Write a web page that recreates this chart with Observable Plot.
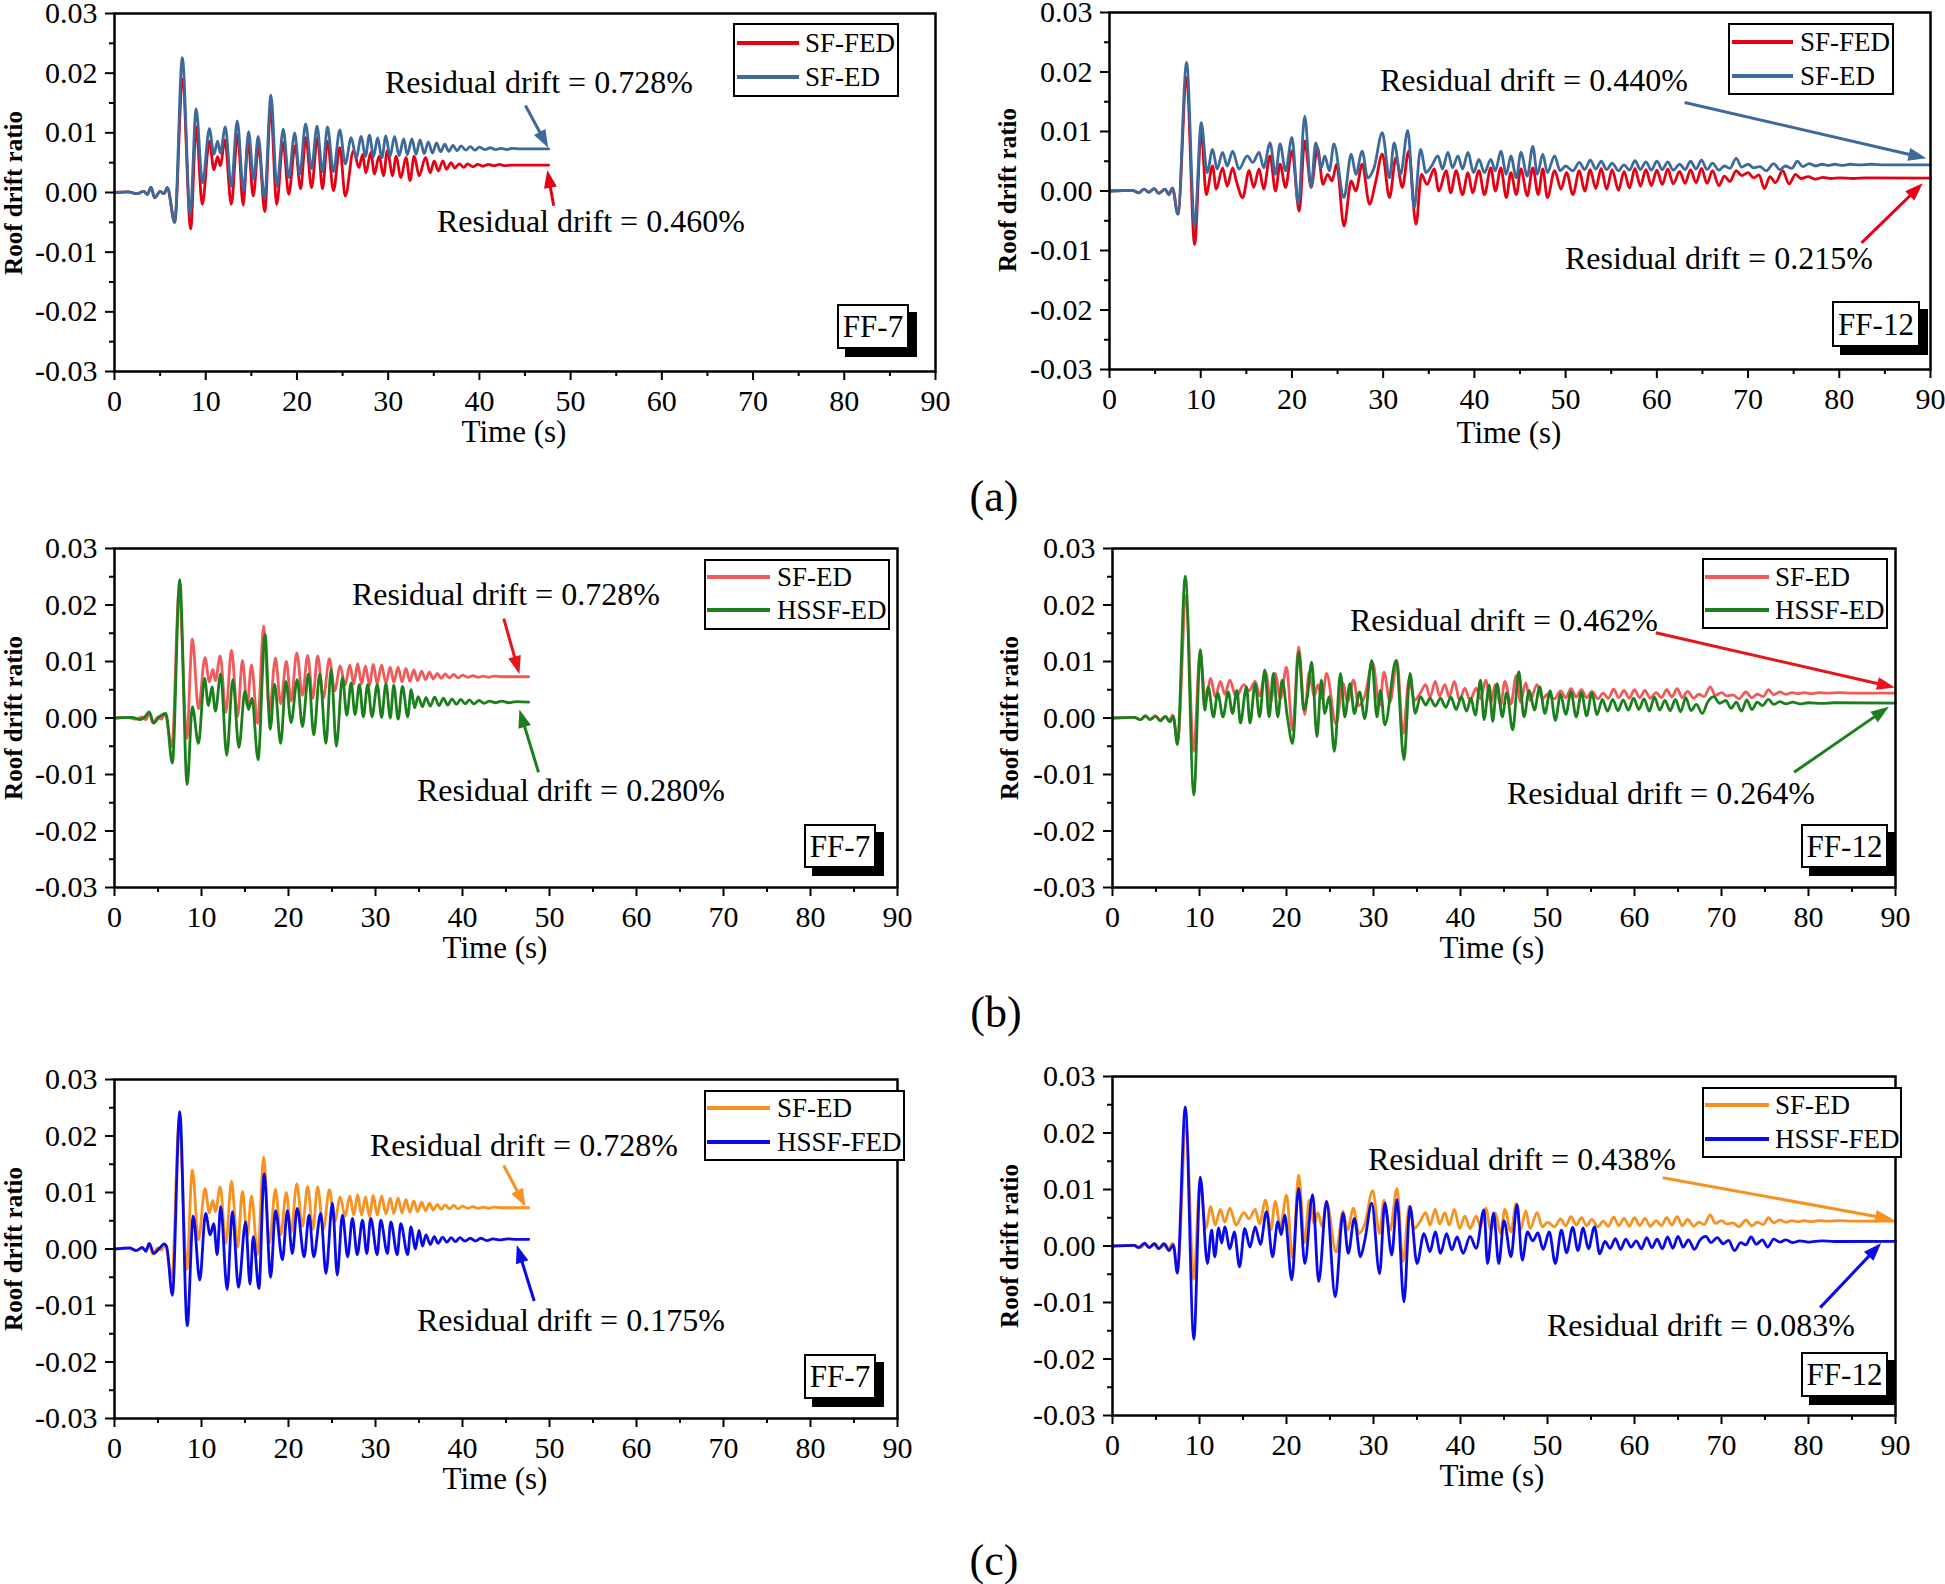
<!DOCTYPE html>
<html><head><meta charset="utf-8">
<script src="https://cdn.jsdelivr.net/npm/d3@7"></script>
<script src="https://cdn.jsdelivr.net/npm/@observablehq/plot@0.6"></script>
<style>
body{margin:0;background:#fff;}
#page{position:relative;width:1945px;height:1584px;overflow:hidden;font-family:"Liberation Serif","Times New Roman",serif;color:#000;background:#fff;}
.t{position:absolute;white-space:nowrap;line-height:1;transform:translate(0,-50%);}
.c{position:absolute;white-space:nowrap;line-height:1;transform:translate(-50%,-50%);}
.legend{position:absolute;border:2.5px solid #000;background:#fff;box-sizing:border-box;}
.ff{position:absolute;background:#fff;border:2.5px solid #000;box-shadow:8px 8px 0 #000;font-size:31px;display:flex;align-items:center;justify-content:center;box-sizing:border-box;line-height:1;}
svg{position:absolute;}
</style></head><body><div id="page"></div>
<script>
// ---- ticks ----
const xTicks=[0,10,20,30,40,50,60,70,80,90];
const xMinor=[5,15,25,35,45,55,65,75,85];
const yTicks=[-0.03,-0.02,-0.01,0,0.01,0.02,0.03];
const yMinor=[-0.025,-0.015,-0.005,0.005,0.015,0.025];

// ---- FF-7 series: [time (s), roof drift ratio] ----
const sfED7=[[0,0],[1.5,0.0001],[2.5,-0.0002],[3.2,0.0002],[3.6,-0.0003],[4.0,0.0009],[4.4,-0.0009],[5.0,0.0002],[5.4,-0.0002],[5.8,0.0008],[6.6,-0.005],[7.43,0.0226],[8.3,-0.0036],[8.95,0.014],[9.65,0.0016],[10.4,0.0107],[10.9,0.0064],[11.3,0.0086],[11.6,0.0066],[12.15,0.011],[12.8,0.001],[13.45,0.012],[14.15,0.0003],[14.7,0.0102],[15.25,0.0022],[15.75,0.0094],[16.45,-0.001],[17.15,0.0163],[17.8,0.001],[18.5,0.0106],[19.1,0.0025],[19.75,0.01],[20.3,0.003],[20.95,0.0115],[21.6,0.004],[22.2,0.0111],[22.8,0.0035],[23.35,0.011],[24.0,0.0035],[24.7,0.0105],[25.3,0.0048],[25.95,0.0092],[26.5,0.0058],[27.05,0.0094],[27.5,0.006],[27.95,0.0096],[28.4,0.006],[28.85,0.0092],[29.3,0.0058],[29.75,0.0095],[30.2,0.006],[30.7,0.0094],[31.2,0.0062],[31.7,0.009],[32.1,0.0063],[32.6,0.009],[33.05,0.0064],[33.5,0.0088],[33.95,0.0065],[34.4,0.0085],[34.85,0.0066],[35.3,0.0083],[35.75,0.0068],[36.2,0.0081],[36.65,0.0069],[37.1,0.0079],[37.55,0.007],[38.0,0.0078],[38.5,0.0071],[39.0,0.0077],[39.5,0.0071],[40.0,0.0076],[40.6,0.0072],[41.2,0.0075],[41.8,0.0072],[42.4,0.0074],[43.0,0.0072],[43.6,0.0074],[44.5,0.0073],[47.6,0.0073]];
const sfFED7=[[0,0],[1.5,0.0001],[2.5,-0.0002],[3.2,0.0002],[3.6,-0.0003],[4.0,0.0009],[4.4,-0.0009],[5.0,0.0002],[5.4,-0.0002],[5.8,0.0008],[6.6,-0.005],[7.45,0.019],[8.35,-0.0061],[8.95,0.011],[9.62,-0.002],[10.4,0.0086],[10.9,0.0038],[11.3,0.006],[11.6,0.0045],[12.1,0.0088],[12.8,-0.002],[13.5,0.0098],[14.1,-0.0021],[14.65,0.0086],[15.2,-0.0006],[15.8,0.0078],[16.47,-0.0032],[17.12,0.0142],[17.78,-0.002],[18.48,0.0084],[19.1,-0.0003],[19.8,0.0078],[20.4,0.0006],[20.97,0.0092],[21.6,0.0008],[22.25,0.0092],[22.8,0.0006],[23.35,0.0086],[24.0,0.0003],[24.7,0.0075],[25.3,-0.0006],[26.2,0.007],[26.8,0.0042],[27.2,0.0064],[27.55,0.0033],[28.1,0.0067],[28.5,0.0031],[29.0,0.0061],[29.5,0.0028],[29.9,0.007],[30.5,0.0028],[30.85,0.0061],[31.4,0.0025],[31.95,0.0059],[32.4,0.002],[32.85,0.0061],[33.4,0.0028],[34.1,0.0059],[34.6,0.0033],[35.05,0.0053],[35.5,0.0036],[36.0,0.0053],[36.4,0.0039],[36.9,0.005],[37.3,0.0041],[37.8,0.0048],[38.3,0.0042],[38.7,0.0048],[39.3,0.0043],[39.8,0.0047],[40.4,0.0044],[41.0,0.0047],[41.6,0.0045],[42.2,0.0047],[42.8,0.0045],[43.5,0.0046],[44.5,0.0046],[47.6,0.0046]];
const hssfED7=[[0,0],[2,0.0001],[3,-0.0003],[3.5,0.0002],[4.0,0.0011],[4.5,-0.0009],[5.2,0.0003],[5.9,0.0008],[6.65,-0.008],[7.5,0.0245],[8.35,-0.0118],[8.95,0.002],[9.65,-0.0045],[10.35,0.007],[10.8,0.0022],[11.2,0.0055],[11.6,0.0012],[12.2,0.0078],[12.9,-0.0066],[13.6,0.0068],[14.3,-0.0052],[15.0,0.0048],[15.4,0.0015],[15.8,0.0035],[16.5,-0.0074],[17.3,0.0148],[17.9,-0.002],[18.4,0.006],[19.1,-0.0045],[19.7,0.0065],[20.3,-0.0008],[21.0,0.0068],[21.6,-0.0015],[22.3,0.0078],[22.9,-0.003],[23.6,0.0078],[24.3,-0.0045],[24.9,0.0086],[25.5,-0.005],[26.2,0.0072],[26.7,0.0005],[27.2,0.0062],[27.65,0.0006],[28.15,0.0059],[28.6,0.0002],[29.1,0.0059],[29.6,0.0002],[30.2,0.0059],[30.7,0.0001],[31.2,0.0061],[31.7,0.0],[32.1,0.0058],[32.6,-0.0002],[33.1,0.0056],[33.7,0.0002],[34.1,0.005],[34.5,0.0018],[34.9,0.0038],[35.4,0.002],[35.8,0.0036],[36.3,0.0021],[36.8,0.0037],[37.3,0.0022],[37.8,0.0035],[38.3,0.0023],[38.8,0.0034],[39.3,0.0024],[39.8,0.0033],[40.3,0.0025],[40.8,0.0032],[41.3,0.0025],[41.9,0.0031],[42.5,0.0026],[43.1,0.003],[43.8,0.0027],[44.5,0.003],[45.3,0.0027],[46.2,0.0029],[47.6,0.0028]];
const hssfFED7=[[0,0],[1.8,0.0002],[2.5,-0.0003],[3.2,0.0003],[3.6,-0.0004],[4.0,0.001],[4.5,-0.0008],[5.2,0.0002],[5.7,0.0009],[6.0,0.0004],[6.65,-0.0082],[7.5,0.0243],[8.36,-0.0136],[9.05,0.0058],[9.8,-0.0055],[10.47,0.0063],[11.0,0.0025],[11.4,0.0045],[11.8,-0.001],[12.2,0.0075],[12.95,-0.0072],[13.55,0.0066],[14.25,-0.0068],[15.07,0.0048],[15.57,-0.0062],[15.95,0.0022],[16.6,-0.007],[17.2,0.0133],[17.95,-0.005],[18.5,0.0068],[19.3,-0.0019],[19.87,0.0068],[20.44,-0.0008],[21.0,0.0072],[21.8,-0.0014],[22.36,0.006],[22.9,-0.0014],[23.7,0.0063],[24.3,-0.0043],[25.05,0.0081],[25.6,-0.0046],[26.2,0.006],[26.8,-0.0014],[27.35,0.0054],[27.9,-0.001],[28.5,0.0051],[29.0,-0.0008],[29.45,0.0054],[30.2,-0.001],[30.6,0.0051],[31.37,-0.0008],[31.76,0.0048],[32.5,-0.001],[32.9,0.0045],[33.7,-0.001],[34.06,0.0039],[34.6,0.0],[35.0,0.0033],[35.4,0.0005],[35.8,0.0025],[36.3,0.0008],[36.75,0.0022],[37.2,0.001],[37.7,0.0021],[38.2,0.0012],[38.7,0.002],[39.2,0.0013],[39.7,0.002],[40.3,0.0014],[40.9,0.0019],[41.5,0.0014],[42.1,0.0019],[42.8,0.0015],[43.5,0.0018],[44.3,0.0016],[45.2,0.0018],[46.2,0.0017],[47.6,0.0017]];

// ---- FF-12 series ----
const sfED12=[[0,0],[2.5,0.0001],[3.2,-0.0003],[3.8,0.0003],[4.3,-0.0002],[4.9,0.0004],[5.4,-0.0004],[6.1,0.0003],[6.5,-0.0006],[6.9,0.0005],[7.5,-0.0039],[8.45,0.0216],[9.33,-0.0059],[10.06,0.0115],[10.7,0.0031],[11.3,0.007],[11.8,0.0037],[12.4,0.0065],[12.9,0.0042],[13.5,0.0067],[14.2,0.0037],[15.1,0.0059],[15.7,0.0048],[16.4,0.0065],[16.9,0.0039],[17.6,0.0081],[18.2,0.0028],[18.7,0.0079],[19.3,0.0034],[20.0,0.009],[20.7,-0.0022],[21.4,0.0126],[22.1,0.0006],[22.6,0.0081],[23.2,0.0039],[23.6,0.0059],[24.1,0.0034],[24.6,0.0079],[25.7,-0.0011],[26.5,0.0062],[27.0,0.0028],[27.7,0.0067],[28.3,0.0022],[29.0,0.0039],[29.9,0.0098],[30.7,0.0022],[31.2,0.0081],[31.9,0.0028],[32.7,0.0102],[33.4,-0.0028],[34.1,0.007],[34.7,0.0031],[35.3,0.0042],[36.0,0.0059],[36.5,0.0037],[37.1,0.0065],[37.6,0.0039],[38.2,0.0059],[38.7,0.0037],[39.3,0.0065],[39.9,0.0031],[40.5,0.0053],[41.1,0.0031],[41.8,0.0053],[42.3,0.0034],[42.9,0.0067],[43.5,0.0028],[44.0,0.0059],[44.6,0.0022],[45.1,0.0065],[45.8,0.0025],[46.4,0.0075],[46.9,0.0028],[47.5,0.0062],[48.0,0.0031],[48.8,0.0059],[49.4,0.0034],[50.0,0.0042],[50.8,0.0034],[51.5,0.0048],[52.1,0.0036],[52.7,0.0052],[53.3,0.0037],[53.9,0.005],[54.5,0.0036],[55.1,0.0047],[55.8,0.0034],[56.4,0.0044],[57.0,0.0035],[57.6,0.0051],[58.2,0.0036],[58.8,0.0049],[59.4,0.0035],[60.0,0.005],[60.6,0.0036],[61.2,0.0049],[61.8,0.0035],[62.5,0.0045],[63.1,0.0036],[63.7,0.005],[64.3,0.0037],[64.9,0.0052],[65.5,0.0036],[66.1,0.0047],[66.8,0.0035],[67.4,0.0042],[68.0,0.0038],[68.7,0.0055],[69.3,0.004],[70.0,0.0045],[70.6,0.0039],[71.3,0.0041],[72.0,0.0034],[72.8,0.0046],[73.5,0.0036],[74.1,0.0042],[74.8,0.0038],[75.4,0.005],[76.0,0.0041],[76.7,0.0046],[77.4,0.0042],[78.1,0.0045],[78.8,0.0043],[79.5,0.0045],[80.3,0.0043],[81.2,0.0045],[82.2,0.0044],[83.5,0.0045],[85,0.0044],[90,0.0044]];
const sfFED12=[[0,0],[2.5,0.0001],[3.2,-0.0003],[3.8,0.0003],[4.3,-0.0002],[4.9,0.0004],[5.4,-0.0004],[6.1,0.0003],[6.5,-0.0006],[6.9,0.0005],[7.5,-0.0039],[8.45,0.019],[9.33,-0.009],[10.06,0.0101],[10.6,-0.0006],[11.3,0.0042],[11.7,0.0003],[12.4,0.0039],[12.9,0.0008],[13.5,0.0039],[13.9,0.0017],[14.6,-0.0011],[15.3,0.0034],[15.8,0.0006],[16.4,0.0037],[16.9,0.0003],[17.6,0.0059],[18.2,0.0],[18.7,0.0045],[19.3,0.0006],[20.0,0.0068],[20.8,-0.0034],[21.4,0.0084],[22.1,0.0006],[22.8,0.0073],[23.4,0.0011],[23.9,0.0028],[24.4,0.0017],[24.9,0.0045],[25.7,-0.0059],[26.5,0.0017],[27.0,0.0],[27.7,0.0045],[28.5,-0.0022],[29.2,0.0017],[29.9,0.0062],[30.7,-0.0011],[31.4,0.0056],[32.1,0.0006],[32.8,0.0067],[33.6,-0.0056],[34.2,0.0028],[34.8,0.0011],[35.6,0.0037],[36.1,0.0],[36.9,0.0034],[37.4,-0.0003],[38.0,0.0034],[38.7,-0.0006],[39.3,0.0031],[39.8,-0.0003],[40.5,0.0034],[41.1,-0.0006],[41.8,0.0039],[42.3,0.0],[42.9,0.0039],[43.5,-0.0011],[44.0,0.0031],[44.6,-0.0006],[45.1,0.0037],[45.8,-0.0008],[46.4,0.0039],[47.0,-0.0006],[47.5,0.0037],[48.0,-0.0011],[48.8,0.0034],[49.5,0.0003],[50.1,0.0031],[50.8,-0.0006],[51.5,0.0034],[52.1,0.0],[52.7,0.0036],[53.3,0.0004],[53.9,0.0038],[54.5,0.0003],[55.1,0.0036],[55.8,0.0001],[56.4,0.0033],[57.0,0.0005],[57.6,0.0038],[58.2,0.0008],[58.8,0.0036],[59.4,0.0009],[60.0,0.0035],[60.6,0.0011],[61.2,0.0037],[61.8,0.0012],[62.5,0.0033],[63.1,0.0013],[63.7,0.0036],[64.3,0.0014],[64.9,0.0038],[65.5,0.0013],[66.1,0.0034],[66.8,0.0009],[67.4,0.0025],[68.0,0.0016],[68.7,0.0034],[69.3,0.0026],[70.0,0.0031],[70.6,0.0022],[71.2,0.0027],[71.8,0.0004],[72.4,0.0024],[73.0,0.0014],[73.8,0.0034],[74.5,0.0012],[75.2,0.0028],[75.8,0.0021],[76.6,0.0024],[77.4,0.002],[78.2,0.0023],[79.1,0.0021],[80.1,0.0022],[81.5,0.0021],[83,0.0022],[90,0.00215]];
const hssfED12=[[0,0],[2.5,0.0001],[3.2,-0.0003],[3.8,0.0004],[4.3,-0.0003],[5.0,0.0003],[5.5,-0.0005],[6.1,0.0003],[6.6,-0.0007],[7.0,0.0003],[7.45,-0.0047],[8.37,0.0251],[9.35,-0.0136],[10.1,0.0121],[10.6,0.0014],[11.0,0.0055],[11.6,0.0002],[12.1,0.0044],[12.7,0.0002],[13.3,0.0046],[13.8,0.0008],[14.3,0.0049],[14.7,-0.0009],[15.4,0.0055],[15.8,-0.0009],[16.4,0.0061],[16.9,0.0002],[17.5,0.0085],[18.0,0.0002],[18.5,0.0079],[19.0,0.0002],[19.5,0.0067],[20.1,0.0002],[20.7,-0.0045],[21.4,0.0117],[22.0,0.0014],[22.4,0.0038],[22.9,0.0099],[23.5,-0.0033],[24.0,0.0067],[24.4,0.0008],[24.9,0.0038],[25.5,-0.0059],[26.2,0.0079],[26.7,0.0002],[27.3,0.0061],[27.8,0.0008],[28.4,0.0046],[29.0,-0.0001],[29.8,0.0102],[30.4,0.0002],[30.8,0.0049],[31.3,-0.0012],[32.6,0.0102],[33.5,-0.0074],[34.2,0.0079],[34.8,0.0008],[35.4,0.0038],[36.0,0.0023],[36.5,0.0035],[37.1,0.0021],[37.7,0.0035],[38.3,0.0019],[38.9,0.0037],[39.5,0.0015],[40.1,0.0038],[40.7,0.0012],[41.2,0.0035],[41.7,0.0005],[42.3,0.0067],[42.7,-0.0003],[43.3,0.0058],[43.7,-0.0006],[44.2,0.0061],[44.8,0.0002],[45.3,0.0045],[46.0,-0.0021],[46.7,0.0082],[47.3,0.0002],[47.9,0.0049],[48.5,0.0014],[49.1,0.0055],[49.7,0.0008],[50.3,0.0048],[50.9,-0.0004],[51.5,0.0042],[52.1,0.0006],[52.7,0.0046],[53.3,0.0002],[53.9,0.0045],[54.5,0.0004],[55.1,0.0044],[55.7,0.0006],[56.3,0.0033],[56.9,0.0012],[57.5,0.0033],[58.1,0.0013],[58.7,0.0032],[59.3,0.0014],[59.9,0.0035],[60.5,0.0015],[61.1,0.0034],[61.7,0.0012],[62.3,0.0037],[62.9,0.0014],[63.5,0.0031],[64.1,0.0013],[64.7,0.0033],[65.3,0.0011],[65.9,0.0036],[66.5,0.0013],[67.1,0.0024],[67.8,0.0008],[68.4,0.0028],[69.1,0.0038],[69.8,0.0026],[70.5,0.0031],[71.1,0.0017],[71.7,0.0028],[72.3,0.0012],[72.9,0.0032],[73.5,0.0015],[74.1,0.0028],[74.7,0.0022],[75.4,0.0033],[76.0,0.0024],[76.7,0.0029],[77.4,0.0025],[78.2,0.0028],[79.0,0.0025],[80,0.0027],[81.5,0.0026],[83,0.0027],[90,0.00264]];
const hssfFED12=[[0,0],[2.5,0.0001],[3.0,-0.0003],[3.7,0.0005],[4.2,-0.0003],[4.8,0.0004],[5.3,-0.0005],[5.9,0.0004],[6.5,-0.0008],[7.0,0.0002],[7.45,-0.0048],[8.37,0.0246],[9.35,-0.0165],[10.1,0.0122],[10.9,-0.0031],[11.4,0.0028],[11.75,-0.0019],[12.2,0.0032],[12.55,0.0005],[12.9,0.0034],[13.5,-0.0005],[14.0,0.0025],[14.6,-0.0037],[15.2,0.0031],[15.8,-0.0002],[16.4,0.0034],[17.0,0.0003],[17.7,0.0061],[18.4,-0.0019],[19.0,0.0043],[19.4,0.002],[19.8,0.0055],[20.6,-0.006],[21.4,0.0102],[22.1,-0.0031],[23.0,0.0091],[23.7,-0.0063],[24.6,0.0079],[25.6,-0.009],[26.5,0.0058],[27.1,-0.0013],[27.8,0.0049],[28.5,-0.0019],[29.0,0.001],[29.8,0.0076],[30.7,-0.0049],[31.3,0.0076],[32.1,-0.0016],[32.7,0.0082],[33.5,-0.0099],[34.2,0.007],[35.0,-0.0031],[35.8,0.0022],[36.5,-0.001],[37.1,0.0025],[37.7,-0.0013],[38.4,0.0022],[39.0,-0.0007],[39.6,0.0016],[40.3,-0.0013],[41.1,0.0017],[41.8,-0.0004],[42.7,0.0064],[43.1,-0.0031],[43.8,0.0058],[44.4,-0.0031],[45.0,0.0045],[45.8,-0.0019],[46.5,0.0073],[47.1,-0.0025],[47.7,0.0025],[48.3,0.0009],[48.9,0.0023],[49.5,-0.0006],[50.2,0.0025],[50.9,-0.0031],[51.6,0.0028],[52.2,-0.0012],[52.9,0.0033],[53.5,-0.0008],[54.1,0.0032],[54.7,-0.0005],[55.4,0.0034],[56.0,-0.0014],[56.6,0.0008],[57.2,-0.0004],[57.8,0.0013],[58.4,-0.0006],[59.0,0.0012],[59.6,-0.0002],[60.2,0.0009],[60.8,-0.0005],[61.4,0.0015],[62.0,-0.0003],[62.6,0.0012],[63.2,-0.0005],[63.8,0.0016],[64.4,-0.0004],[65.0,0.0017],[65.6,-0.0002],[66.2,0.0011],[66.9,-0.0006],[67.5,0.001],[68.2,0.0017],[68.8,0.0006],[69.5,0.0015],[70.2,0.0004],[70.8,0.001],[71.5,-0.0008],[72.2,0.0006],[72.8,0.0002],[73.4,0.0016],[74.0,0.0003],[74.7,0.0011],[75.3,-0.0002],[76.0,0.0012],[76.7,0.0007],[77.4,0.0011],[78.2,0.0006],[79.0,0.0009],[80.0,0.0007],[81.5,0.0009],[83,0.0008],[90,0.00083]];

// ---- colours ----
const RED_A="#e60012", BLUE_A="#3d6a9b", RED_B="#f05a5a", GREEN_B="#1b801b", ORANGE_C="#f7911f", BLUE_C="#0a0ae8", ARROW_RED="#e8141c";

// ---- residual drift labels ----
const resLabels=["Residual drift = 0.728%","Residual drift = 0.460%","Residual drift = 0.440%","Residual drift = 0.215%","Residual drift = 0.728%","Residual drift = 0.280%","Residual drift = 0.462%","Residual drift = 0.264%","Residual drift = 0.728%","Residual drift = 0.175%","Residual drift = 0.438%","Residual drift = 0.083%"];

const panels=[
 {frame:[114,935,13,371], series:[{name:"SF-FED",data:sfFED7,color:RED_A},{name:"SF-ED",data:sfED7,color:BLUE_A}],
  legend:{x0:733,x1:899,y0:23,y1:97,rows:[43,77],lx:[737,799],tx:805},
  res:[{text:resLabels[0],x:385,y:82,arrow:[45.1,0.0145,47.6,0.0074],color:BLUE_A},{text:resLabels[1],x:437,y:221,arrow:[48.2,-0.0023,47.5,0.0037],color:RED_A}],
  ff:{text:"FF-7",x0:837,x1:909,y0:304,y1:349}, tl:[514,431], yl:[13,193]},
 {frame:[1109,1930,12,369], series:[{name:"SF-FED",data:sfFED12,color:RED_A},{name:"SF-ED",data:sfED12,color:BLUE_A}],
  legend:{x0:1728,x1:1894,y0:23,y1:95,rows:[42,76],lx:[1732,1793],tx:1800},
  res:[{text:resLabels[2],x:1380,y:80,arrow:[63.1,0.0148,89.6,0.0054],color:BLUE_A},{text:resLabels[3],x:1565,y:258,arrow:[82.5,-0.0088,89.2,0.0012],color:RED_A}],
  ff:{text:"FF-12",x0:1832,x1:1920,y0:301,y1:347}, tl:[1509,432], yl:[1007,190]},
 {frame:[114,897,548,887], series:[{name:"SF-ED",data:sfED7,color:RED_B},{name:"HSSF-ED",data:hssfED7,color:GREEN_B}],
  legend:{x0:704,x1:890,y0:559,y1:630,rows:[577,610],lx:[707,770],tx:777},
  res:[{text:resLabels[4],x:352,y:594,arrow:[44.8,0.0175,46.6,0.0077],color:ARROW_RED},{text:resLabels[5],x:417,y:790,arrow:[48.8,-0.0097,46.6,0.0014],color:GREEN_B}],
  ff:{text:"FF-7",x0:804,x1:876,y0:824,y1:868}, tl:[495,947], yl:[13,718]},
 {frame:[1112,1895,548,887], series:[{name:"SF-ED",data:sfED12,color:RED_B},{name:"HSSF-ED",data:hssfED12,color:GREEN_B}],
  legend:{x0:1702,x1:1888,y0:558,y1:629,rows:[577,610],lx:[1705,1769],tx:1775},
  res:[{text:resLabels[6],x:1350,y:620,arrow:[62.5,0.015,90,0.0053],color:ARROW_RED},{text:resLabels[7],x:1507,y:793,arrow:[78.4,-0.0097,89.3,0.0019],color:GREEN_B}],
  ff:{text:"FF-12",x0:1801,x1:1888,y0:824,y1:868}, tl:[1492,947], yl:[1009,718]},
 {frame:[114,897,1079,1418], series:[{name:"SF-ED",data:sfED7,color:ORANGE_C},{name:"HSSF-FED",data:hssfFED7,color:BLUE_C}],
  legend:{x0:704,x1:905,y0:1090,y1:1161,rows:[1108,1142],lx:[707,770],tx:777},
  res:[{text:resLabels[8],x:370,y:1145,arrow:[44.8,0.0147,47.3,0.0074],color:ORANGE_C},{text:resLabels[9],x:417,y:1320,arrow:[48.3,-0.0093,46.3,0.0006],color:BLUE_C}],
  ff:{text:"FF-7",x0:804,x1:876,y0:1354,y1:1399}, tl:[495,1478], yl:[13,1249]},
 {frame:[1112,1895,1076,1415], series:[{name:"SF-ED",data:sfED12,color:ORANGE_C},{name:"HSSF-FED",data:hssfFED12,color:BLUE_C}],
  legend:{x0:1702,x1:1902,y0:1087,y1:1158,rows:[1105,1139],lx:[1705,1769],tx:1775},
  res:[{text:resLabels[10],x:1368,y:1159,arrow:[63.3,0.012,89.8,0.0046],color:ORANGE_C},{text:resLabels[11],x:1547,y:1325,arrow:[81.4,-0.011,88.4,0.0004],color:BLUE_C}],
  ff:{text:"FF-12",x0:1801,x1:1888,y0:1352,y1:1397}, tl:[1492,1475], yl:[1009,1246]}
];
const captions=[{t:"(a)",x:994,y:497},{t:"(b)",x:996,y:1013},{t:"(c)",x:994,y:1561}];

const page=document.getElementById("page");
function add(cls, html, style){const d=document.createElement("div");if(cls)d.className=cls;d.innerHTML=html;Object.assign(d.style,style);page.appendChild(d);return d;}

const ML=110, MT=14, MR=16, MB=90;
for(const p of panels){
  const [x0,x1,y0,y1]=p.frame;
  const w=x1-x0, h=y1-y0;
  const marks=[
    Plot.axisX({ticks:xTicks,tickSize:9,tickPadding:9,strokeWidth:2,label:null,tickFormat:d=>String(d)}),
    Plot.axisX({ticks:xMinor,tickSize:5,strokeWidth:2,label:null,tickFormat:()=>""}),
    Plot.axisY({ticks:yTicks,tickSize:9,tickPadding:8,strokeWidth:2,label:null,tickFormat:d=>d.toFixed(2)}),
    Plot.axisY({ticks:yMinor,tickSize:5,strokeWidth:2,label:null,tickFormat:()=>""})
  ];
  for(const s of p.series){
    marks.push(Plot.line(s.data,{x:d=>d[0],y:d=>d[1],stroke:s.color,strokeWidth:2.8,curve:"monotone-x"}));
  }
  marks.push(Plot.frame({stroke:"#000",strokeWidth:2.5}));
  const svg=Plot.plot({
    width:w+ML+MR, height:h+MT+MB,
    marginLeft:ML, marginRight:MR, marginTop:MT, marginBottom:MB,
    x:{domain:[0,90]}, y:{domain:[-0.03,0.03]},
    style:{fontFamily:"'Liberation Serif', serif",fontSize:"30px",color:"#000",background:"transparent",overflow:"visible"},
    marks
  });
  svg.style.left=(x0-ML)+"px"; svg.style.top=(y0-MT)+"px"; svg.style.maxWidth="none";
  page.appendChild(svg);

  // arrows with filled heads, positioned through the plot's own scales
  const sxs=svg.scale("x"), sys=svg.scale("y");
  const fx=v=>(sxs && sxs.apply)?sxs.apply(v):ML+(v-0)/90*w;
  const fy=v=>(sys && sys.apply)?sys.apply(v):MT+(0.03-v)/0.06*h;
  const g=d3.select(svg).append("g");
  for(const r of p.res){
    const [ax1,ay1,ax2,ay2]=r.arrow;
    const X1=fx(ax1),Y1=fy(ay1),X2=fx(ax2),Y2=fy(ay2);
    const ang=Math.atan2(Y2-Y1,X2-X1), L=18, W=6.5;
    const bx=X2-L*Math.cos(ang), by=Y2-L*Math.sin(ang);
    g.append("line").attr("x1",X1).attr("y1",Y1).attr("x2",bx+2*Math.cos(ang)).attr("y2",by+2*Math.sin(ang))
      .attr("stroke",r.color).attr("stroke-width",3);
    g.append("polygon").attr("points",[[X2,Y2],[bx-W*Math.sin(ang),by+W*Math.cos(ang)],[bx+W*Math.sin(ang),by-W*Math.cos(ang)]].map(q=>q.join(",")).join(" "))
      .attr("fill",r.color);
  }

  // legend
  const L=p.legend;
  add("legend","",{left:L.x0+"px",top:L.y0+"px",width:(L.x1-L.x0)+"px",height:(L.y1-L.y0)+"px"});
  p.series.forEach((s,i)=>{
    const yy=L.rows[i];
    add("","",{position:"absolute",left:L.lx[0]+"px",top:(yy-2)+"px",width:(L.lx[1]-L.lx[0])+"px",height:"4px",background:s.color});
    add("t",s.name,{left:L.tx+"px",top:yy+"px",fontSize:"27px"});
  });
  // residual labels
  for(const r of p.res){ add("t",r.text,{left:r.x+"px",top:r.y+"px",fontSize:"32px"}); }
  // FF box
  const F=p.ff;
  add("ff",F.text,{left:F.x0+"px",top:F.y0+"px",width:(F.x1-F.x0)+"px",height:(F.y1-F.y0)+"px"});
  // axis titles
  add("c","Time (s)",{left:p.tl[0]+"px",top:p.tl[1]+"px",fontSize:"31px"});
  add("c","Roof drift ratio",{left:p.yl[0]+"px",top:p.yl[1]+"px",fontSize:"25px",fontWeight:"bold",transform:"translate(-50%,-50%) rotate(-90deg)"});
}
for(const c of captions){ add("c",c.t,{left:c.x+"px",top:c.y+"px",fontSize:"44px"}); }
</script></body></html>
